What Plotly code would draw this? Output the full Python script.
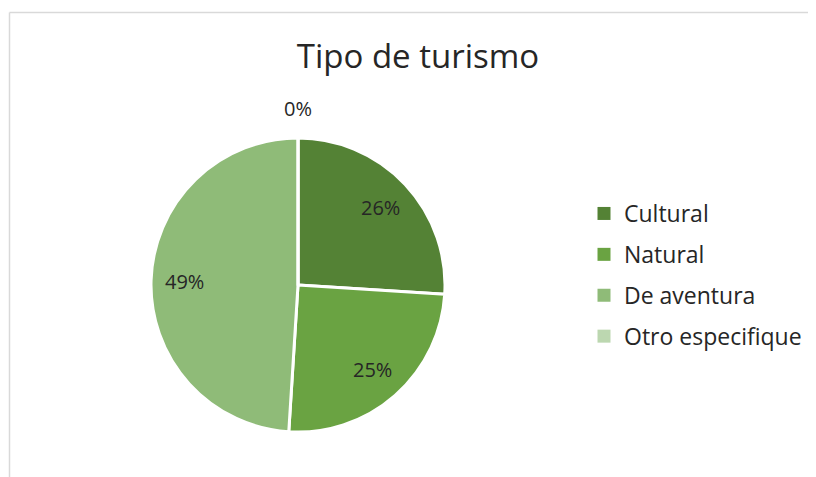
import math
import plotly.graph_objects as go

labels = ["Cultural", "Natural", "De aventura", "Otro especifique"]
values = [26, 25, 49, 0]
colors = ["#548235", "#6aa342", "#8fbb78", "#bcd7b0"]
title_text = "Tipo de turismo"

W, H = 816, 477
cx, cy, r = 290, 277, 147
FONT = "Open Sans"

fig = go.Figure()
fig.add_trace(go.Pie(
    labels=labels, values=values, sort=False, direction="clockwise", rotation=0,
    marker=dict(colors=colors, line=dict(color="white", width=3)),
    textinfo="none", hoverinfo="label+percent",
    domain=dict(x=[(cx - r) / W, (cx + r) / W], y=[1 - (cy + r) / H, 1 - (cy - r) / H]),
    showlegend=False,
))

# legend entries (one per category, so the spacing between them can be set)
for i, (lab, col) in enumerate(zip(labels, colors)):
    fig.add_trace(go.Scatter(
        x=[None], y=[None], mode="markers", name=lab, legendgroup=f"g{i}",
        marker=dict(symbol="square", size=13, color=col), showlegend=True,
    ))

# percentage labels placed along each slice's mid-angle
total = sum(values)
annotations = []
cum = 0.0
for v in values:
    mid = (cum + v / 2) / total * 2 * math.pi
    cum += v
    rr = r * 0.77 if v > 0 else r * 1.2
    px = cx + rr * math.sin(mid)
    py = cy - rr * math.cos(mid)
    annotations.append(dict(
        x=px / W, y=1 - py / H, xref="paper", yref="paper", showarrow=False,
        text=f"{round(v / total * 100)}%", xanchor="center", yanchor="middle",
        font=dict(family=FONT, size=20, color="#262626"),
    ))

fig.update_layout(
    width=W, height=H,
    margin=dict(l=0, r=0, t=0, b=0),
    paper_bgcolor="white", plot_bgcolor="white",
    xaxis=dict(visible=False), yaxis=dict(visible=False),
    title=dict(text=title_text, x=410 / W, xanchor="center", y=1 - 48 / H, yanchor="middle",
               font=dict(family=FONT, size=33, color="#262626")),
    legend=dict(x=576 / W, y=1 - 184 / H, xanchor="left", yanchor="top",
                font=dict(family=FONT, size=23, color="#262626"),
                tracegroupgap=8, bgcolor="rgba(0,0,0,0)"),
    annotations=annotations,
    shapes=[
        dict(type="line", xref="paper", yref="paper", x0=1.5 / W, x1=1, y0=1 - 4.5 / H, y1=1 - 4.5 / H,
             line=dict(color="#d9d9d9", width=1.5)),
        dict(type="line", xref="paper", yref="paper", x0=1.5 / W, x1=1.5 / W, y0=0, y1=1 - 4.5 / H,
             line=dict(color="#d9d9d9", width=1.5)),
    ],
)

fig.write_html("out.html")
